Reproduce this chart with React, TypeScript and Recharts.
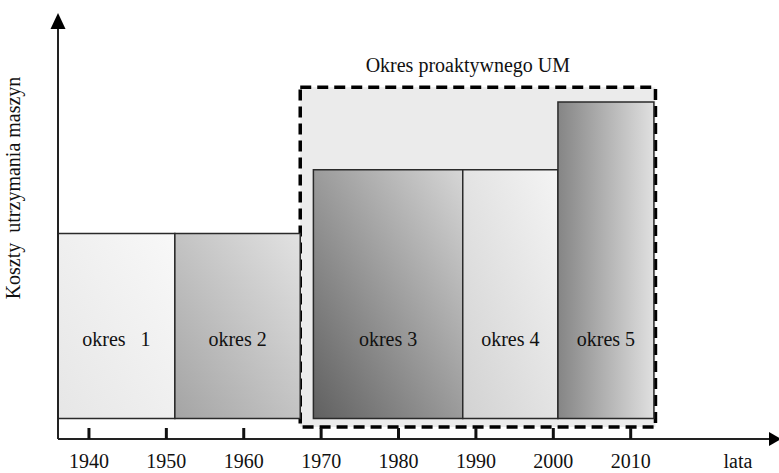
import React from "react";
import {
  ComposedChart,
  XAxis,
  YAxis,
  ReferenceArea,
  Label,
} from "recharts";

// okresy utrzymania maszyn (lata od-do) i poziom kosztów
const periodNames = ["okres   1", "okres 2", "okres 3", "okres 4", "okres 5"];
const periodStart = [1936, 1951.1, 1969, 1988.3, 2000.6];
const periodEnd = [1951.1, 1967.3, 1988.3, 2000.6, 2013];
const periodCost = [50, 50, 65.5, 65.5, 82];
const costBase = 5;

// okres proaktywnego UM
const proactiveLabel = "Okres proaktywnego UM";
const proactiveFrom = 1967.3;
const proactiveTo = 2013.2;
const proactiveTop = 85.6;
const proactiveBottom = 2.9;

const yearTicks = [1940, 1950, 1960, 1970, 1980, 1990, 2000, 2010];
const xTitle = "lata";
const yTitle = "Koszty  utrzymania maszyn";

const FONT = "'Liberation Serif', 'Times New Roman', serif";
const FS = 20;

const gradients = [
  { id: "g1", from: "#e6e6e6", to: "#f8f8f8", dir: [0, 1, 1, 0] },
  { id: "g2", from: "#a4a4a4", to: "#e2e2e2", dir: [0, 1, 1, 0] },
  { id: "g3", from: "#606060", to: "#d6d6d6", dir: [0, 1, 1, 0] },
  { id: "g4", from: "#d2d2d2", to: "#f4f4f4", dir: [0, 1, 1, 0] },
  { id: "g5", from: "#858585", to: "#e0e0e0", dir: [0, 0, 1, 0] },
];

function YearTick(props: any) {
  const { x, y, payload } = props;
  return (
    <g>
      <line x1={x} y1={y} x2={x} y2={y - 11} stroke="#111" strokeWidth={3} />
      <text
        x={x}
        y={y + 29}
        textAnchor="middle"
        fontFamily={FONT}
        fontSize={FS}
        fill="#111"
      >
        {payload.value}
      </text>
    </g>
  );
}

function XTitle(props: any) {
  const { x, y, width } = props.viewBox;
  const end = x + width;
  return (
    <g>
      <polygon
        points={`${end - 1},${y - 7} ${end + 11},${y} ${end - 1},${y + 7}`}
        fill="#000"
      />
      <text x={end - 32} y={y + 29} textAnchor="middle" fontFamily={FONT} fontSize={FS} fill="#111">
        {xTitle}
      </text>
    </g>
  );
}

function YTitle(props: any) {
  const { x, y, width } = props.viewBox;
  const ax = x + width;
  const tx = x + 20;
  const ty = y + 160;
  return (
    <g>
      <polygon points={`${ax - 7.5},${y + 1} ${ax},${y - 15} ${ax + 7.5},${y + 1}`} fill="#000" />
      <text
        x={tx}
        y={ty}
        transform={`rotate(-90, ${tx}, ${ty})`}
        textAnchor="middle"
        fontFamily={FONT}
        fontSize={FS}
        fill="#111"
        style={{ whiteSpace: "pre" }}
      >
        {yTitle}
      </text>
    </g>
  );
}

function PeriodLabel(name: string) {
  return (props: any) => {
    const { x, y, width, height } = props.viewBox;
    return (
      <text
        x={x + width / 2}
        y={y + height - 72}
        textAnchor="middle"
        fontFamily={FONT}
        fontSize={FS}
        fill="#111"
        style={{ whiteSpace: "pre" }}
      >
        {name}
      </text>
    );
  };
}

function ProactiveLabel(props: any) {
  const { x, y, width } = props.viewBox;
  return (
    <text
      x={x + width / 2 - 10}
      y={y - 15}
      textAnchor="middle"
      fontFamily={FONT}
      fontSize={FS}
      fill="#111"
    >
      {proactiveLabel}
    </text>
  );
}

export default function App() {
  return (
    <div style={{ position: "absolute", left: 0, top: 0, width: 779, height: 473, background: "#fff" }}>
      <ComposedChart
        width={779}
        height={473}
        margin={{ top: 28, right: 9, bottom: 0, left: 0 }}
        style={{ overflow: "visible" }}
      >
        <defs>
          {gradients.map((g) => (
            <linearGradient
              key={g.id}
              id={g.id}
              x1={g.dir[0]}
              y1={g.dir[1]}
              x2={g.dir[2]}
              y2={g.dir[3]}
            >
              <stop offset="0%" stopColor={g.from} />
              <stop offset="100%" stopColor={g.to} />
            </linearGradient>
          ))}
        </defs>
        <XAxis
          type="number"
          dataKey="x"
          domain={[1936, 2028]}
          ticks={yearTicks}
          allowDataOverflow
          height={34}
          tickSize={0}
          tickMargin={0}
          tickLine={false}
          tick={<YearTick />}
          axisLine={{ stroke: "#222", strokeWidth: 2 }}
        >
          <Label content={<XTitle />} />
        </XAxis>
        <YAxis
          type="number"
          domain={[0, 100]}
          allowDataOverflow
          width={58}
          tick={false}
          tickLine={false}
          axisLine={{ stroke: "#222", strokeWidth: 2 }}
        >
          <Label content={<YTitle />} />
        </YAxis>
        <ReferenceArea
          x1={proactiveFrom}
          x2={proactiveTo}
          y1={proactiveBottom}
          y2={proactiveTop}
          fill="#ebebeb"
          fillOpacity={1}
          stroke="#000"
          strokeWidth={3.5}
          strokeDasharray="11 6"
          ifOverflow="visible"
          label={<ProactiveLabel />}
        />
        {periodNames.map((name, i) => (
          <ReferenceArea
            key={name}
            x1={periodStart[i]}
            x2={periodEnd[i]}
            y1={costBase}
            y2={periodCost[i]}
            fill={`url(#g${i + 1})`}
            fillOpacity={1}
            stroke="#2a2a2a"
            strokeWidth={1.5}
            ifOverflow="visible"
            label={PeriodLabel(name)}
          />
        ))}
      </ComposedChart>
    </div>
  );
}
